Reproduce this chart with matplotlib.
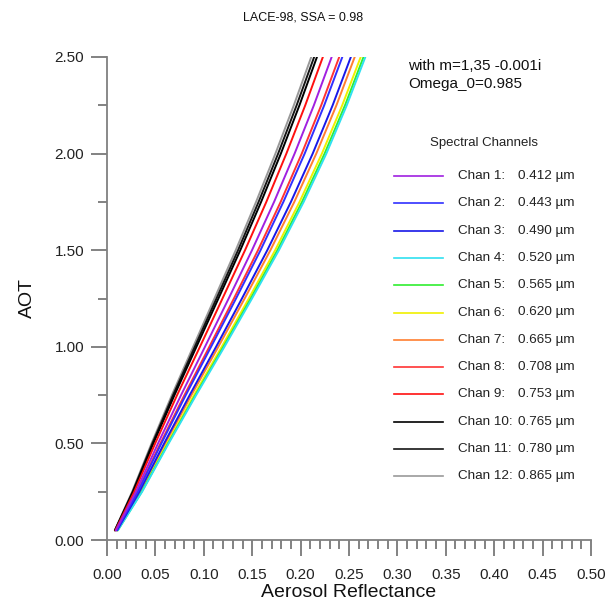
import matplotlib
matplotlib.use("Agg")
import matplotlib.pyplot as plt
from matplotlib.lines import Line2D
from matplotlib.ticker import MultipleLocator, FormatStrFormatter

plt.rcParams['font.family'] = ['Liberation Sans', 'DejaVu Sans']

AOT = [0.05, 0.25, 0.5, 0.75, 1.0, 1.25, 1.5, 1.75, 2.0, 2.25, 2.5]

chan_labels = ['Chan 1:', 'Chan 2:', 'Chan 3:', 'Chan 4:', 'Chan 5:', 'Chan 6:',
               'Chan 7:', 'Chan 8:', 'Chan 9:', 'Chan 10:', 'Chan 11:', 'Chan 12:']
wavelengths = ['0.412', '0.443', '0.490', '0.520', '0.565', '0.620',
               '0.665', '0.708', '0.753', '0.765', '0.780', '0.865']
colors = ['#a020e0', '#3030ff', '#1818e8', '#30e0f0', '#30ee30', '#f0f000',
          '#ff7f30', '#ff3333', '#ff1010', '#000000', '#151515', '#999999']

# aerosol reflectance per channel
refl = {
    'Chan 1:':  [0.0092, 0.0299, 0.0527, 0.0765, 0.1012, 0.1257, 0.1498, 0.1726, 0.1938, 0.2137, 0.2321],
    'Chan 2:':  [0.0098, 0.0319, 0.0562, 0.0814, 0.1075, 0.1333, 0.1586, 0.1822, 0.2042, 0.2244, 0.2431],
    'Chan 3:':  [0.0104, 0.0335, 0.0590, 0.0854, 0.1127, 0.1394, 0.1656, 0.1900, 0.2125, 0.2331, 0.2519],
    'Chan 4:':  [0.0112, 0.0363, 0.0637, 0.0921, 0.1213, 0.1498, 0.1776, 0.2032, 0.2266, 0.2477, 0.2669],
    'Chan 5:':  [0.0111, 0.0359, 0.0631, 0.0913, 0.1202, 0.1485, 0.1761, 0.2015, 0.2248, 0.2459, 0.2650],
    'Chan 6:':  [0.0109, 0.0354, 0.0622, 0.0899, 0.1185, 0.1465, 0.1737, 0.1989, 0.2220, 0.2430, 0.2621],
    'Chan 7:':  [0.0106, 0.0343, 0.0603, 0.0872, 0.1150, 0.1422, 0.1688, 0.1935, 0.2162, 0.2370, 0.2559],
    'Chan 8:':  [0.0097, 0.0313, 0.0552, 0.0800, 0.1057, 0.1311, 0.1560, 0.1794, 0.2012, 0.2213, 0.2399],
    'Chan 9:':  [0.0087, 0.0282, 0.0498, 0.0724, 0.0960, 0.1193, 0.1426, 0.1646, 0.1853, 0.2048, 0.2230],
    'Chan 10:': [0.0083, 0.0271, 0.0479, 0.0697, 0.0924, 0.1151, 0.1377, 0.1592, 0.1796, 0.1988, 0.2169],
    'Chan 11:': [0.0082, 0.0265, 0.0469, 0.0683, 0.0907, 0.1131, 0.1354, 0.1566, 0.1768, 0.1959, 0.2140],
    'Chan 12:': [0.0080, 0.0260, 0.0460, 0.0670, 0.0890, 0.1110, 0.1330, 0.1540, 0.1740, 0.1930, 0.2110],
}

W, H = 607, 602
fig = plt.figure(figsize=(W / 100, H / 100), dpi=100)
ax = fig.add_axes([107 / W, 1 - 540 / H, (591 - 107) / W, (540 - 57) / H])

# draw the curves back to front so the picture stacking matches
for lab, col in zip(chan_labels[::-1], colors[::-1]):
    ax.plot(refl[lab], AOT, color=col, lw=1.4, solid_capstyle='round',
            solid_joinstyle='round')

ax.set_xlim(0, 0.5)
ax.set_ylim(0, 2.5)
for s in ['top', 'right']:
    ax.spines[s].set_visible(False)
for s in ['left', 'bottom']:
    ax.spines[s].set_color('#808080')
    ax.spines[s].set_linewidth(1.3)

ax.xaxis.set_major_locator(MultipleLocator(0.05))
ax.xaxis.set_minor_locator(MultipleLocator(0.01))
ax.yaxis.set_major_locator(MultipleLocator(0.5))
ax.yaxis.set_minor_locator(MultipleLocator(0.25))
ax.xaxis.set_major_formatter(FormatStrFormatter('%.2f'))
ax.yaxis.set_major_formatter(FormatStrFormatter('%.2f'))
ax.tick_params(axis='both', which='major', length=11.5, width=1.1, color='#606060',
               labelsize=11, labelcolor='#222222')
ax.tick_params(axis='both', which='minor', length=6.5, width=1.1, color='#606060')
ax.tick_params(axis='x', which='major', pad=9)
ax.tick_params(axis='y', which='major', pad=5)

ax.set_xlabel('Aerosol Reflectance', fontsize=14, labelpad=1, color='#111111')
ax.set_ylabel('AOT', fontsize=14, labelpad=13, color='#111111')

fig.text(303 / W, 1 - 17 / H, 'LACE-98, SSA = 0.98', ha='center', va='center',
         fontsize=9, color='#111111')
fig.text(408 / W, 1 - 66 / H, 'with m=1,35 -0.001i', ha='left', va='center',
         fontsize=11, color='#111111')
fig.text(408 / W, 1 - 84 / H, 'Omega_0=0.985', ha='left', va='center',
         fontsize=11, color='#111111')

# hand placed legend
fig.text(484 / W, 1 - 143 / H, 'Spectral Channels', ha='center', va='center',
         fontsize=9.5, color='#222222')
for i, (lab, wl, col) in enumerate(zip(chan_labels, wavelengths, colors)):
    yy = 1 - (176 + i * 27.3) / H
    fig.add_artist(Line2D([394 / W, 443 / W], [yy, yy], color=col, lw=1.2,
                          transform=fig.transFigure))
    fig.text(458 / W, yy, lab, ha='left', va='center', fontsize=9.7, color='#222222')
    fig.text(518 / W, yy, wl + ' \u00b5m', ha='left', va='center', fontsize=9.7,
             color='#222222')

fig.savefig('out.png', dpi=100)
